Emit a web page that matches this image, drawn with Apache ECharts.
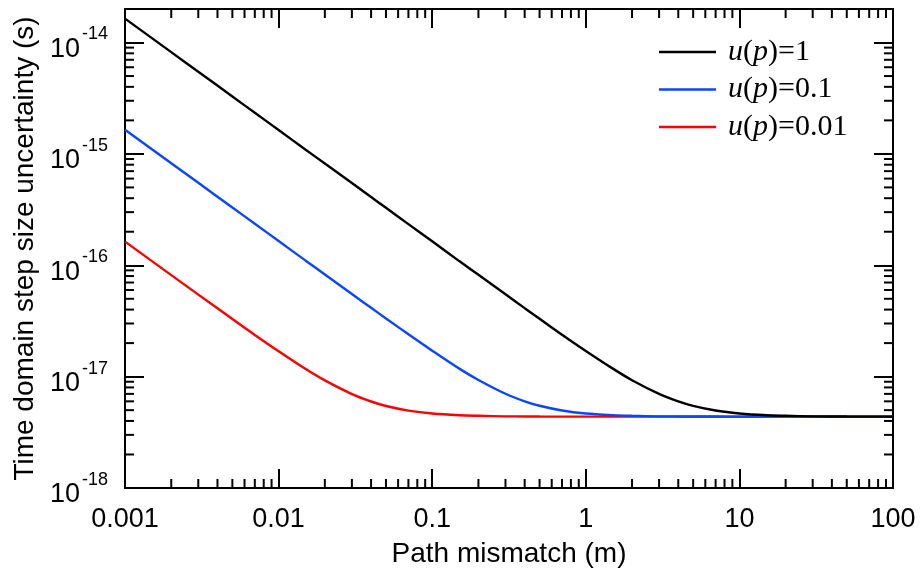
<!DOCTYPE html>
<html><head><meta charset="utf-8">
<script src="https://cdn.jsdelivr.net/npm/echarts@6/dist/echarts.min.js"></script>
<style>html,body{margin:0;padding:0;background:#fff}#c{width:920px;height:575px}</style>
</head><body><div id="c"></div>
<script>
// ---- data ----
const pathMismatch = [0.001, 0.002, 0.003, 0.005, 0.007, 0.01, 0.015, 0.02, 0.03, 0.04, 0.05, 0.07, 0.1, 0.15, 0.2, 0.3, 0.4, 0.5, 0.7, 1, 1.5, 2, 3, 4, 5, 7, 10, 15, 20, 30, 50, 100];
const seriesNames = ['u(p)=1', 'u(p)=0.1', 'u(p)=0.01'];
const uncU1 = [1.64e-14, 8.2e-15, 5.47e-15, 3.28e-15, 2.34e-15, 1.64e-15, 1.09e-15, 8.2e-16, 5.47e-16, 4.1e-16, 3.28e-16, 2.34e-16, 1.64e-16, 1.09e-16, 8.21e-17, 5.49e-17, 4.12e-17, 3.31e-17, 2.38e-17, 1.70e-17, 1.18e-17, 9.29e-18, 7.0e-18, 5.99e-18, 5.46e-18, 4.96e-18, 4.67e-18, 4.50e-18, 4.45e-18, 4.40e-18, 4.38e-18, 4.37e-18];
const uncU01 = [1.65e-15, 8.25e-16, 5.5e-16, 3.3e-16, 2.36e-16, 1.65e-16, 1.1e-16, 8.26e-17, 5.52e-17, 4.15e-17, 3.33e-17, 2.40e-17, 1.71e-17, 1.18e-17, 9.34e-18, 7.02e-18, 6.01e-18, 5.48e-18, 4.97e-18, 4.67e-18, 4.51e-18, 4.45e-18, 4.40e-18, 4.39e-18, 4.38e-18, 4.38e-18, 4.37e-18, 4.37e-18, 4.37e-18, 4.37e-18, 4.37e-18, 4.37e-18];
const uncU001 = [1.63e-16, 8.16e-17, 5.45e-17, 3.29e-17, 2.37e-17, 1.69e-17, 1.17e-17, 9.25e-18, 6.97e-18, 5.98e-18, 5.45e-18, 4.95e-18, 4.66e-18, 4.50e-18, 4.45e-18, 4.40e-18, 4.39e-18, 4.38e-18, 4.37e-18, 4.37e-18, 4.37e-18, 4.37e-18, 4.37e-18, 4.37e-18, 4.37e-18, 4.37e-18, 4.37e-18, 4.37e-18, 4.37e-18, 4.37e-18, 4.37e-18, 4.37e-18];
const xTickLabels = ['0.001', '0.01', '0.1', '1', '10', '100'];
const yTickBase = '10';
const yTickExponents = ['-18', '-17', '-16', '-15', '-14'];
const minorMantissas = [2, 3, 4, 5, 6, 7, 8, 9];
const xDecades = [0.001, 0.01, 0.1, 1, 10];
const yDecades = [1e-18, 1e-17, 1e-16, 1e-15];
const xMin = 0.001, xMax = 100, yMin = 1e-18, yMax = 2e-14;

// ---- build ----
const xMinor = [], yMinor = [];
xDecades.forEach(d => minorMantissas.forEach(m => xMinor.push(+(d * m).toPrecision(3))));
yDecades.forEach(d => minorMantissas.forEach(m => yMinor.push(+(d * m).toPrecision(3))));

const FONT = "'Liberation Sans', Arial, sans-serif";
const SERIF = "'Liberation Serif', 'Times New Roman', serif";
const MINOR_LEN = 9;
const tickStyle = { color: '#000', width: 2 };

function decadeIndex(v, offset) {
  const l = Math.log10(v), e = Math.round(l);
  if (Math.abs(l - e) > 0.01) return -1;
  return e + offset;
}
function xFmt(v) { const i = decadeIndex(v, 3); return i >= 0 ? (xTickLabels[i] || '') : ''; }
function yBaseFmt(v) { const i = decadeIndex(v, 18); return (i >= 0 && yTickExponents[i]) ? yTickBase : ''; }
function yExpFmt(v) { const i = decadeIndex(v, 18); return i >= 0 ? (yTickExponents[i] || '') : ''; }

const baseAxis = {
  type: 'log', logBase: 10,
  axisLine: { show: true, onZero: false, lineStyle: { color: '#000', width: 2 } },
  axisTick: { show: true, inside: true, length: 19, lineStyle: tickStyle },
  splitLine: { show: false },
  minorTick: { show: false },
  minorSplitLine: { show: false }
};

const option = {
  animation: false,
  backgroundColor: '#fff',
  grid: { left: 125, right: 27, top: 9, bottom: 87, containLabel: false },
  xAxis: [
    Object.assign({}, baseAxis, {
      min: xMin, max: xMax, position: 'bottom', splitNumber: 5,
      name: 'Path mismatch (m)', nameLocation: 'middle', nameGap: 52,
      nameTextStyle: { fontFamily: FONT, fontSize: 28, color: '#000' },
      axisLabel: { show: true, margin: 18, fontFamily: FONT, fontSize: 27, color: '#000', formatter: xFmt, showMinLabel: true, showMaxLabel: true }
    }),
    Object.assign({}, baseAxis, {
      min: xMin, max: xMax, position: 'top', splitNumber: 5,
      axisLabel: { show: false }
    })
  ],
  yAxis: [
    Object.assign({}, baseAxis, {
      min: yMin, max: yMax, position: 'left', splitNumber: 4,
      name: 'Time domain step size uncertainty (s)', nameLocation: 'middle', nameGap: 86,
      nameTextStyle: { fontFamily: FONT, fontSize: 28, color: '#000' },
      axisLabel: {
        show: true, margin: 45, formatter: yBaseFmt, showMaxLabel: false,
        fontFamily: FONT, fontSize: 27, color: '#000',
        verticalAlign: 'top', lineHeight: 14
      }
    }),
    Object.assign({}, baseAxis, {
      min: yMin, max: yMax, position: 'right', splitNumber: 4,
      axisLabel: { show: false }
    }),
    Object.assign({}, baseAxis, {
      min: yMin, max: yMax, position: 'left', splitNumber: 4, offset: 0,
      axisLine: { show: false }, axisTick: { show: false },
      axisLabel: {
        show: true, margin: 17, formatter: yExpFmt, showMaxLabel: false,
        fontFamily: FONT, fontSize: 18, color: '#000',
        verticalAlign: 'bottom', lineHeight: 16
      }
    })
  ],
  legend: {
    data: seriesNames, orient: 'vertical', left: 654, top: 32,
    icon: 'rect', itemWidth: 57, itemHeight: 2.5, itemGap: 7.5,
    textStyle: {
      fontFamily: SERIF, fontSize: 30, color: '#000', padding: [0, 0, 0, 7],
      rich: { i: { fontFamily: SERIF, fontSize: 30, fontStyle: 'italic', color: '#000' } }
    },
    formatter: n => n.replace('u(p)', '{i|u}({i|p})')
  },
  series: [
    {
      type: 'custom', silent: true, clip: false, xAxisIndex: 0, yAxisIndex: 0,
      data: xMinor.map(v => [v, yMin]),
      renderItem: function (params, api) {
        const p = api.coord([api.value(0), yMin]);
        const cs = params.coordSys;
        const st = { stroke: '#000', lineWidth: 2 };
        return { type: 'group', children: [
          { type: 'line', shape: { x1: p[0], y1: cs.y + cs.height, x2: p[0], y2: cs.y + cs.height - MINOR_LEN }, style: st },
          { type: 'line', shape: { x1: p[0], y1: cs.y, x2: p[0], y2: cs.y + MINOR_LEN }, style: st }
        ] };
      }
    },
    {
      type: 'custom', silent: true, clip: false, xAxisIndex: 0, yAxisIndex: 0,
      data: yMinor.map(v => [xMin, v]),
      renderItem: function (params, api) {
        const p = api.coord([xMin, api.value(1)]);
        const cs = params.coordSys;
        const st = { stroke: '#000', lineWidth: 2 };
        return { type: 'group', children: [
          { type: 'line', shape: { x1: cs.x, y1: p[1], x2: cs.x + MINOR_LEN, y2: p[1] }, style: st },
          { type: 'line', shape: { x1: cs.x + cs.width, y1: p[1], x2: cs.x + cs.width - MINOR_LEN, y2: p[1] }, style: st }
        ] };
      }
    },
    {
      name: seriesNames[2], type: 'line', symbol: 'none', showSymbol: false, smooth: 0.3,
      data: pathMismatch.map((x, i) => [x, uncU001[i]]),
      lineStyle: { color: '#ff0000', width: 2.4 }, itemStyle: { color: '#ff0000' }
    },
    {
      name: seriesNames[1], type: 'line', symbol: 'none', showSymbol: false, smooth: 0.3,
      data: pathMismatch.map((x, i) => [x, uncU01[i]]),
      lineStyle: { color: '#0a46ff', width: 2.4 }, itemStyle: { color: '#0a46ff' }
    },
    {
      name: seriesNames[0], type: 'line', symbol: 'none', showSymbol: false, smooth: 0.3,
      data: pathMismatch.map((x, i) => [x, uncU1[i]]),
      lineStyle: { color: '#000000', width: 2.4 }, itemStyle: { color: '#000000' }
    }
  ]
};

const chart = echarts.init(document.getElementById('c'), null, { renderer: 'canvas' });
chart.setOption(option);
</script>
</body></html>
